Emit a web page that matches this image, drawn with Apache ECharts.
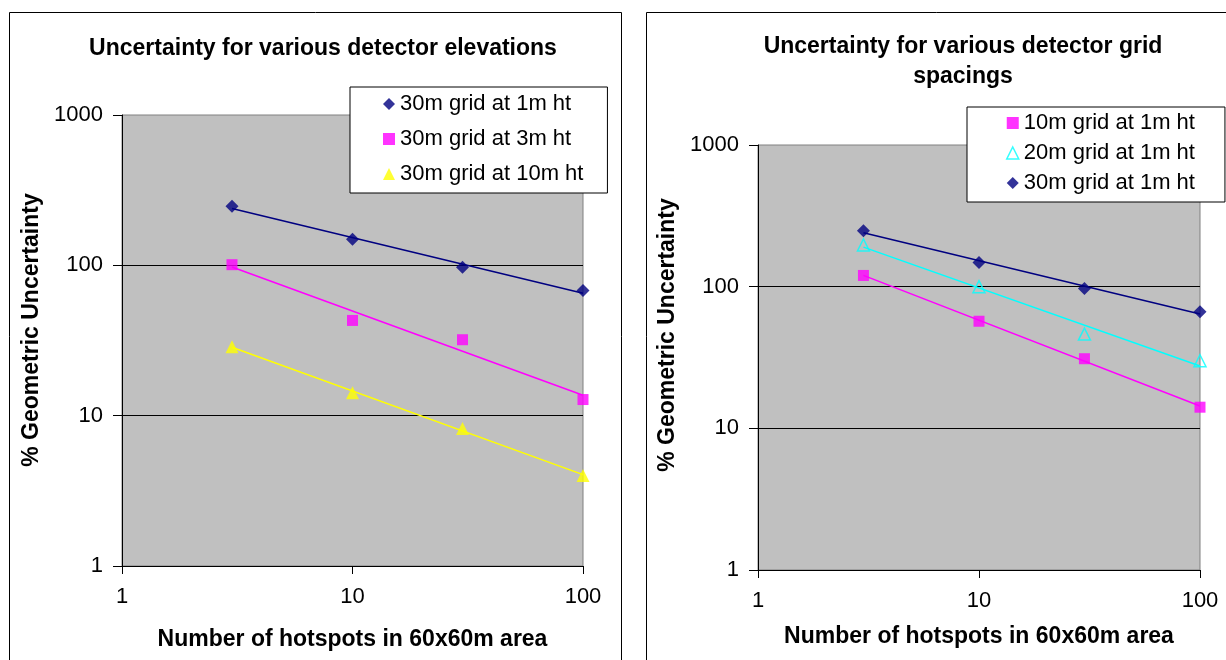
<!DOCTYPE html>
<html>
<head>
<meta charset="utf-8">
<script src="https://cdn.jsdelivr.net/npm/echarts@6/dist/echarts.min.js"></script>
<style>
html,body{margin:0;padding:0;background:#fff;}
#chart{width:1226px;height:660px;}
</style>
</head>
<body>
<div id="chart"></div>
<script>
// ---- data ----
const hotspots = [3, 10, 30, 100];
// left chart: detector elevations (30 m grid)
const elev1m = [247, 149, 97, 68];
const elev3m = [101, 43, 32, 12.8];
const elev10m = [28.7, 14.2, 8.2, 4.0];
// right chart: detector grid spacings (1 m height)
const spacing10m = [120, 57, 31, 14.1];
const spacing20m = [197, 100, 46.3, 30];
const spacing30m = [248, 148, 97, 66.5];
// tick labels / texts
const leftTitle = 'Uncertainty for various detector elevations';
const rightTitle = 'Uncertainty for various detector grid\nspacings';
const xName = 'Number of hotspots in 60x60m area';
const yName = '% Geometric Uncertainty';
const leftNames = ['30m grid at 1m ht', '30m grid at 3m ht', '30m grid at 10m ht'];
const rightNames = ['10m grid at 1m ht', '20m grid at 1m ht', '30m grid at 1m ht'];

const FONT = '"Liberation Sans", Arial, Helvetica, sans-serif';
const NAVY = '#000080', MAG = '#ff00ff', YEL = '#ffff00', CYAN = '#00ffff';

function pairs(xs, ys) { return xs.map((x, i) => [x, ys[i]]); }
// Excel-style power trendline (least squares in log-log space), drawn from first to last x
function powerTrend(xs, ys) {
  const lx = xs.map(Math.log10), ly = ys.map(Math.log10);
  const n = lx.length;
  const mx = lx.reduce((a, b) => a + b, 0) / n, my = ly.reduce((a, b) => a + b, 0) / n;
  let sxy = 0, sxx = 0;
  for (let i = 0; i < n; i++) { sxy += (lx[i] - mx) * (ly[i] - my); sxx += (lx[i] - mx) * (lx[i] - mx); }
  const b = sxy / sxx, a = my - b * mx;
  const x0 = xs[0], x1 = xs[n - 1];
  return [[x0, Math.pow(10, a + b * Math.log10(x0))], [x1, Math.pow(10, a + b * Math.log10(x1))]];
}
const plainNum = v => String(Math.round(v));

function xAxisCfg(gridIndex, gap) {
  return {
    gridIndex, type: 'log', logBase: 10, min: 1, max: 100,
    name: xName, nameLocation: 'middle', nameGap: gap,
    nameTextStyle: { fontFamily: FONT, fontSize: 23, fontWeight: 'bold', color: '#000' },
    axisLine: { show: true, lineStyle: { color: '#000', width: 1 } },
    axisTick: { show: true, length: 8, lineStyle: { color: '#000' } },
    minorTick: { show: false },
    axisLabel: { fontFamily: FONT, fontSize: 22, color: '#000', margin: 20, formatter: plainNum },
    splitLine: { show: false }
  };
}
function yAxisCfg(gridIndex) {
  return {
    gridIndex, type: 'log', logBase: 10, min: 1, max: 1000,
    axisLine: { show: true, lineStyle: { color: '#000', width: 1 } },
    axisTick: { show: true, length: 9, lineStyle: { color: '#000' } },
    minorTick: { show: false },
    axisLabel: { fontFamily: FONT, fontSize: 22, color: '#000', margin: 19, formatter: plainNum },
    splitLine: { show: true, showMinLine: false, showMaxLine: false, lineStyle: { color: '#000', width: 1 } }
  };
}
function scatter(name, xi, data, symbol, size, color, hollow) {
  return {
    type: 'scatter', name, xAxisIndex: xi, yAxisIndex: xi, data,
    symbol, symbolSize: size, z: 5,
    itemStyle: hollow ? { color: 'rgba(0,0,0,0)', borderColor: color, borderWidth: 1.5 } : { color },
    emphasis: { disabled: true }
  };
}
function trend(xi, data, color) {
  return {
    type: 'line', xAxisIndex: xi, yAxisIndex: xi, data, symbol: 'none', silent: true, z: 3,
    lineStyle: { color, width: 1.5 }
  };
}

const legendBase = {
  orient: 'vertical', backgroundColor: '#fff', borderColor: '#000', borderWidth: 1,
  itemWidth: 12, itemHeight: 12, selectedMode: false,
  textStyle: { fontFamily: FONT, fontSize: 22, color: '#000' }
};

const option = {
  backgroundColor: '#fff',
  animation: false,
  title: [
    { text: leftTitle, left: 318, top: 29, textAlign: 'center',
      textStyle: { fontFamily: FONT, fontSize: 23, fontWeight: 'bold', color: '#000', lineHeight: 30 } },
    { text: rightTitle, left: 958, top: 27, textAlign: 'center',
      textStyle: { fontFamily: FONT, fontSize: 23, fontWeight: 'bold', color: '#000', lineHeight: 30 } }
  ],
  grid: [
    { left: 122, top: 115, width: 461, height: 451, show: true, backgroundColor: '#c0c0c0', borderColor: '#808080', borderWidth: 1 },
    { left: 758, top: 145, width: 442, height: 425, show: true, backgroundColor: '#c0c0c0', borderColor: '#808080', borderWidth: 1 }
  ],
  xAxis: [xAxisCfg(0, 62), xAxisCfg(1, 55)],
  yAxis: [yAxisCfg(0), yAxisCfg(1)],
  legend: [
    Object.assign({}, legendBase, {
      left: 350, top: 87, padding: [6, 24, 8, 33], itemGap: 13,
      data: [
        { name: leftNames[0], icon: 'diamond' },
        { name: leftNames[1], icon: 'rect', itemStyle: { color: MAG } },
        { name: leftNames[2], icon: 'triangle', itemStyle: { color: YEL } }
      ]
    }),
    Object.assign({}, legendBase, {
      left: 967, top: 107, padding: [5, 30, 8, 39], itemGap: 8,
      data: [
        { name: rightNames[0], icon: 'rect', itemStyle: { color: MAG } },
        { name: rightNames[1], icon: 'triangle', itemStyle: { color: 'rgba(0,0,0,0)', borderColor: CYAN, borderWidth: 1.5 } },
        { name: rightNames[2], icon: 'diamond', itemStyle: { color: NAVY } }
      ]
    })
  ],
  graphic: [
    { type: 'rect', silent: true, shape: { x: 9.5, y: 12.5, width: 612, height: 700 }, style: { fill: 'none', stroke: '#000', lineWidth: 1 }, z: -1 },
    { type: 'rect', silent: true, shape: { x: 646.5, y: 12.5, width: 700, height: 700 }, style: { fill: 'none', stroke: '#000', lineWidth: 1 }, z: -1 },
    { type: 'text', silent: true, x: 32, y: 330, rotation: Math.PI / 2,
      style: { text: yName, fontFamily: FONT, fontSize: 23, fontWeight: 'bold', fill: '#000', align: 'center', verticalAlign: 'middle' } },
    { type: 'text', silent: true, x: 668, y: 335, rotation: Math.PI / 2,
      style: { text: yName, fontFamily: FONT, fontSize: 23, fontWeight: 'bold', fill: '#000', align: 'center', verticalAlign: 'middle' } }
  ],
  series: [
    trend(0, powerTrend(hotspots, elev1m), NAVY),
    trend(0, powerTrend(hotspots, elev3m), MAG),
    trend(0, powerTrend(hotspots, elev10m), YEL),
    scatter(leftNames[0], 0, pairs(hotspots, elev1m), 'diamond', 13, NAVY),
    scatter(leftNames[1], 0, pairs(hotspots, elev3m), 'rect', 11, MAG),
    scatter(leftNames[2], 0, pairs(hotspots, elev10m), 'triangle', 13, YEL),

    trend(1, powerTrend(hotspots, spacing10m), MAG),
    trend(1, powerTrend(hotspots, spacing20m), CYAN),
    trend(1, powerTrend(hotspots, spacing30m), NAVY),
    scatter(rightNames[0], 1, pairs(hotspots, spacing10m), 'rect', 11, MAG),
    scatter(rightNames[1], 1, pairs(hotspots, spacing20m), 'triangle', 12, CYAN, true),
    scatter(rightNames[2], 1, pairs(hotspots, spacing30m), 'diamond', 13, NAVY)
  ]
};

const chart = echarts.init(document.getElementById('chart'), null, { renderer: 'canvas' });
chart.setOption(option);
</script>
</body>
</html>
